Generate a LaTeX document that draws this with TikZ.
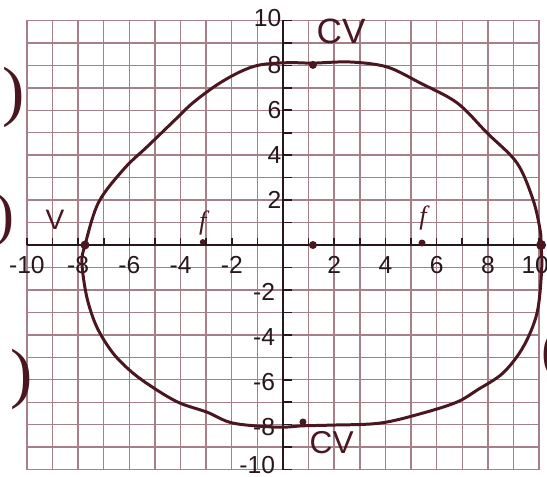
\documentclass[tikz,border=0pt]{standalone}
\usepackage{fontspec}
\setmainfont{Liberation Sans}
\newfontfamily\handserif{Liberation Serif}
\definecolor{ink}{RGB}{74,22,32}
\definecolor{axisink}{RGB}{40,22,30}
\definecolor{paperline}{RGB}{165,128,136}
\begin{document}
\begin{tikzpicture}[x=0.512cm,y=0.449cm,
  gridline/.style={draw=paperline,line width=0.8pt},
  axisline/.style={draw=axisink,line width=1.3pt},
  tickline/.style={draw=axisink,line width=0.9pt},
  numlabel/.style={inner sep=0pt,text=axisink,font=\fontsize{14}{14}\selectfont},
  handlabel/.style={inner sep=0pt,text=ink},
  inkdot/.style={fill=ink,draw=none}]%
% graph paper, axes and the hand drawn ellipse
\useasboundingbox (-11.05,-10.29) rectangle (10.31,10.91);
\clip (-11.05,-10.29) rectangle (10.31,10.91);
\fill[white] (-11.05,-10.29) rectangle (10.31,10.91);
\draw[gridline,xstep=0.512cm,ystep=0.449cm] (-10,-10) grid (10,10);
\draw[gridline] (-10,-10) rectangle (10,10);
\draw[axisline] (-10,0) -- (10,0);
\draw[axisline] (0,-10) -- (0,10);
\foreach \k in {-10,...,10} {
  \draw[tickline] (\k,0) -- (\k,0.3);
  \draw[tickline] (0,\k) -- (0.35,\k);
}
% numbers on the x axis
\node[numlabel] (xm10) at (-10,-0.9) {-10};
\node[numlabel] (xm8) at (-8,-0.9) {-8};
\node[numlabel] (xm6) at (-6,-0.9) {-6};
\node[numlabel] (xm4) at (-4,-0.9) {-4};
\node[numlabel] (xm2) at (-2,-0.9) {-2};
\node[numlabel] (xp2) at (2,-0.9) {2};
\node[numlabel] (xp4) at (4,-0.9) {4};
\node[numlabel] (xp6) at (6,-0.9) {6};
\node[numlabel] (xp8) at (8,-0.9) {8};
\node[numlabel] (xp10) at (9.85,-0.9) {10};
% numbers on the y axis
\node[numlabel,anchor=east] (yp10) at (-0.05,10.1) {10};
\node[numlabel,anchor=east] (yp8) at (-0.05,8) {8};
\node[numlabel,anchor=east] (yp6) at (-0.05,6) {6};
\node[numlabel,anchor=east] (yp4) at (-0.05,4) {4};
\node[numlabel,anchor=east] (yp2) at (-0.05,2) {2};
\node[numlabel,anchor=east] (ym2) at (-0.3,-2.1) {-2};
\node[numlabel,anchor=east] (ym4) at (-0.3,-4.1) {-4};
\node[numlabel,anchor=east] (ym6) at (-0.3,-6.1) {-6};
\node[numlabel,anchor=east] (ym8) at (-0.3,-8.1) {-8};
\node[numlabel,anchor=east] (ym10) at (-0.3,-9.8) {-10};
% the ellipse
\draw[ink,line width=1.7pt] plot[smooth cycle,tension=0.55] coordinates {
 (-7.73,0) (-7.2,1.9) (-6.2,3.4) (-5.31,4.37) (-4.30,5.48) (-3.52,6.33)
 (-2.58,7.13) (-1.68,7.71) (-0.90,8.02) (0.2,8.12) (1.17,8.1) (2.62,8.15)
 (4.06,7.93) (5.35,7.22) (6.80,6.33) (7.97,4.99) (9.14,3.65) (9.77,2.0)
 (10.04,0.67) (10.08,0) (10.1,-1.11) (9.92,-3.03) (9.38,-4.54) (8.59,-5.70)
 (7.58,-6.46) (6.80,-6.99) (5.47,-7.48) (3.79,-7.93) (1.84,-8.02) (0.78,-8.05)
 (-0.23,-8.11) (-1.95,-7.93) (-2.97,-7.44) (-4.02,-7.04) (-4.92,-6.46)
 (-5.86,-5.70) (-6.64,-4.81) (-7.27,-3.65) (-7.66,-2.32) (-7.85,-0.80)};
% vertices, co-vertices, centre and foci
\fill[inkdot] (-7.73,0) circle (0.09cm);
\fill[inkdot] (10.08,0) circle (0.1cm);
\fill[inkdot] (1.17,0) circle (0.08cm);
\fill[inkdot] (-3.13,0.13) circle (0.06cm);
\fill[inkdot] (5.43,0.09) circle (0.07cm);
\fill[inkdot] (1.17,8.02) circle (0.08cm);
\fill[inkdot] (0.78,-7.88) circle (0.07cm);
% hand written marks
\node[handlabel,font=\fontsize{20}{20}\selectfont] (cvtop) at (2.27,9.5) {CV};
\node[handlabel,font=\fontsize{18}{18}\selectfont] (cvbot) at (1.9,-8.8) {CV};
\node[handlabel,font=\fontsize{16}{16}\selectfont] (vleft) at (-8.9,1.1) {V};
\node[handlabel,font=\handserif\itshape\fontsize{15}{15}\selectfont] (fleft) at (-3.13,1.0) {f};
\node[handlabel,font=\handserif\itshape\fontsize{15}{15}\selectfont] (fright) at (5.47,1.2) {f};
% brackets cut by the edge of the scan
\node[handlabel,font=\handserif\fontsize{38}{38}\selectfont] (bra) at (-10.5,6.55) {)};
\node[handlabel,font=\handserif\fontsize{34}{34}\selectfont] (brb) at (-10.86,1.1) {)};
\node[handlabel,font=\handserif\fontsize{38}{38}\selectfont] (brc) at (-10.2,-6.0) {)};
\node[handlabel,font=\handserif\fontsize{34}{34}\selectfont] (brd) at (10.5,-4.9) {(};
\end{tikzpicture}
\end{document}
